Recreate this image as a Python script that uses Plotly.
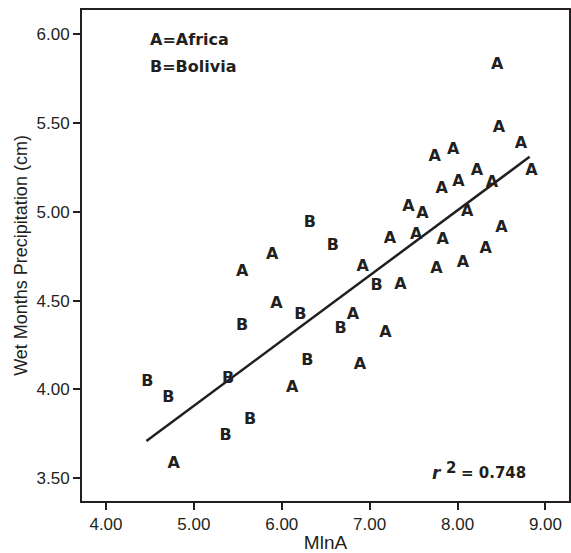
import plotly.graph_objects as go

# Africa (A) points
africa_x = [8.45, 8.47, 8.72, 7.74, 7.95, 8.84, 8.22, 8.01, 7.82, 8.39,
            7.44, 7.60, 8.11, 8.50, 7.23, 7.53, 7.83, 8.32, 6.92, 7.76,
            8.06, 7.35, 6.81, 7.18, 6.89, 6.12, 5.89, 5.55, 5.94, 4.77]
africa_y = [5.83, 5.47, 5.38, 5.31, 5.35, 5.23, 5.23, 5.17, 5.13, 5.16,
            5.03, 4.99, 5.00, 4.91, 4.85, 4.87, 4.84, 4.79, 4.69, 4.68,
            4.71, 4.59, 4.42, 4.32, 4.14, 4.01, 4.76, 4.66, 4.48, 3.58]

# Bolivia (B) points
bolivia_x = [6.32, 6.58, 7.08, 6.21, 6.67, 6.29, 5.55, 4.47, 5.39, 4.71, 5.64, 5.36]
bolivia_y = [4.94, 4.81, 4.58, 4.42, 4.34, 4.16, 4.36, 4.04, 4.06, 3.95, 3.83, 3.74]

# Fit line end points
fit_x = [4.46, 8.82]
fit_y = [3.71, 5.31]

x_ticks = [4, 5, 6, 7, 8, 9]
y_ticks = [3.5, 4.0, 4.5, 5.0, 5.5, 6.0]
r2_text = "0.748"

INK = "#231f20"
BOLD_FONT = "DejaVu Sans"

fig = go.Figure()
fig.add_trace(go.Scatter(x=fit_x, y=fit_y, mode="lines",
                         line=dict(color=INK, width=2.5), hoverinfo="skip"))
fig.add_trace(go.Scatter(x=africa_x, y=africa_y, mode="text",
                         text=["A"] * len(africa_x), textposition="middle center",
                         textfont=dict(family=BOLD_FONT, size=16, color=INK, weight="bold")))
fig.add_trace(go.Scatter(x=bolivia_x, y=bolivia_y, mode="text",
                         text=["B"] * len(bolivia_x), textposition="middle center",
                         textfont=dict(family=BOLD_FONT, size=16, color=INK, weight="bold")))

axis_common = dict(showgrid=False, zeroline=False, showline=True, linecolor=INK,
                   linewidth=2, mirror=True, ticks="outside", ticklen=7,
                   tickwidth=1.5, tickcolor=INK, automargin=False,
                   tickfont=dict(family="Liberation Sans, Arial", size=17, color=INK))

fig.update_xaxes(range=[3.727, 9.268], tickvals=x_ticks,
                 ticktext=[f"{v:.2f}" for v in x_ticks],
                 title=dict(text="MlnA", font=dict(family="Liberation Sans, Arial", size=19, color=INK), standoff=2),
                 **axis_common)
fig.update_yaxes(range=[3.372, 6.137], tickvals=y_ticks,
                 ticktext=[f"{v:.2f}" for v in y_ticks],
                 title=dict(text="Wet Months Precipitation (cm)", font=dict(family="Liberation Sans, Arial", size=18, color=INK), standoff=4),
                 **axis_common)

W, H = 571, 553
L, R, T, B = 82, 2, 10, 52
pw, ph = W - L - R, H - T - B

def px(xp):
    return (xp - L) / pw

def py(yp):
    return (H - B - yp) / ph

fig.add_annotation(x=px(148), y=py(40), xref="paper", yref="paper", text="A=Africa",
                   showarrow=False, xanchor="left", yanchor="middle",
                   font=dict(family=BOLD_FONT, size=16, color=INK, weight="bold"))
fig.add_annotation(x=px(148), y=py(66), xref="paper", yref="paper", text="B=Bolivia",
                   showarrow=False, xanchor="left", yanchor="middle",
                   font=dict(family=BOLD_FONT, size=16, color=INK, weight="bold"))
fig.add_annotation(x=px(437), y=py(473), xref="paper", yref="paper", text="<i>r</i>",
                   showarrow=False, xanchor="center", yanchor="middle",
                   font=dict(family=BOLD_FONT, size=17, color=INK, weight="bold"))
fig.add_annotation(x=px(451), y=py(468), xref="paper", yref="paper", text="2",
                   showarrow=False, xanchor="center", yanchor="middle",
                   font=dict(family=BOLD_FONT, size=15, color=INK, weight="bold"))
fig.add_annotation(x=px(459), y=py(472.5), xref="paper", yref="paper", text="= " + r2_text,
                   showarrow=False, xanchor="left", yanchor="middle",
                   font=dict(family=BOLD_FONT, size=15, color=INK, weight="bold"))

fig.update_layout(width=W, height=H, margin=dict(l=L, r=R, t=T, b=B),
                  plot_bgcolor="white", paper_bgcolor="white", showlegend=False)

fig.write_html("out.html", config={"displayModeBar": False},
               post_script="document.body.style.margin='0';document.body.style.overflow='hidden';")
